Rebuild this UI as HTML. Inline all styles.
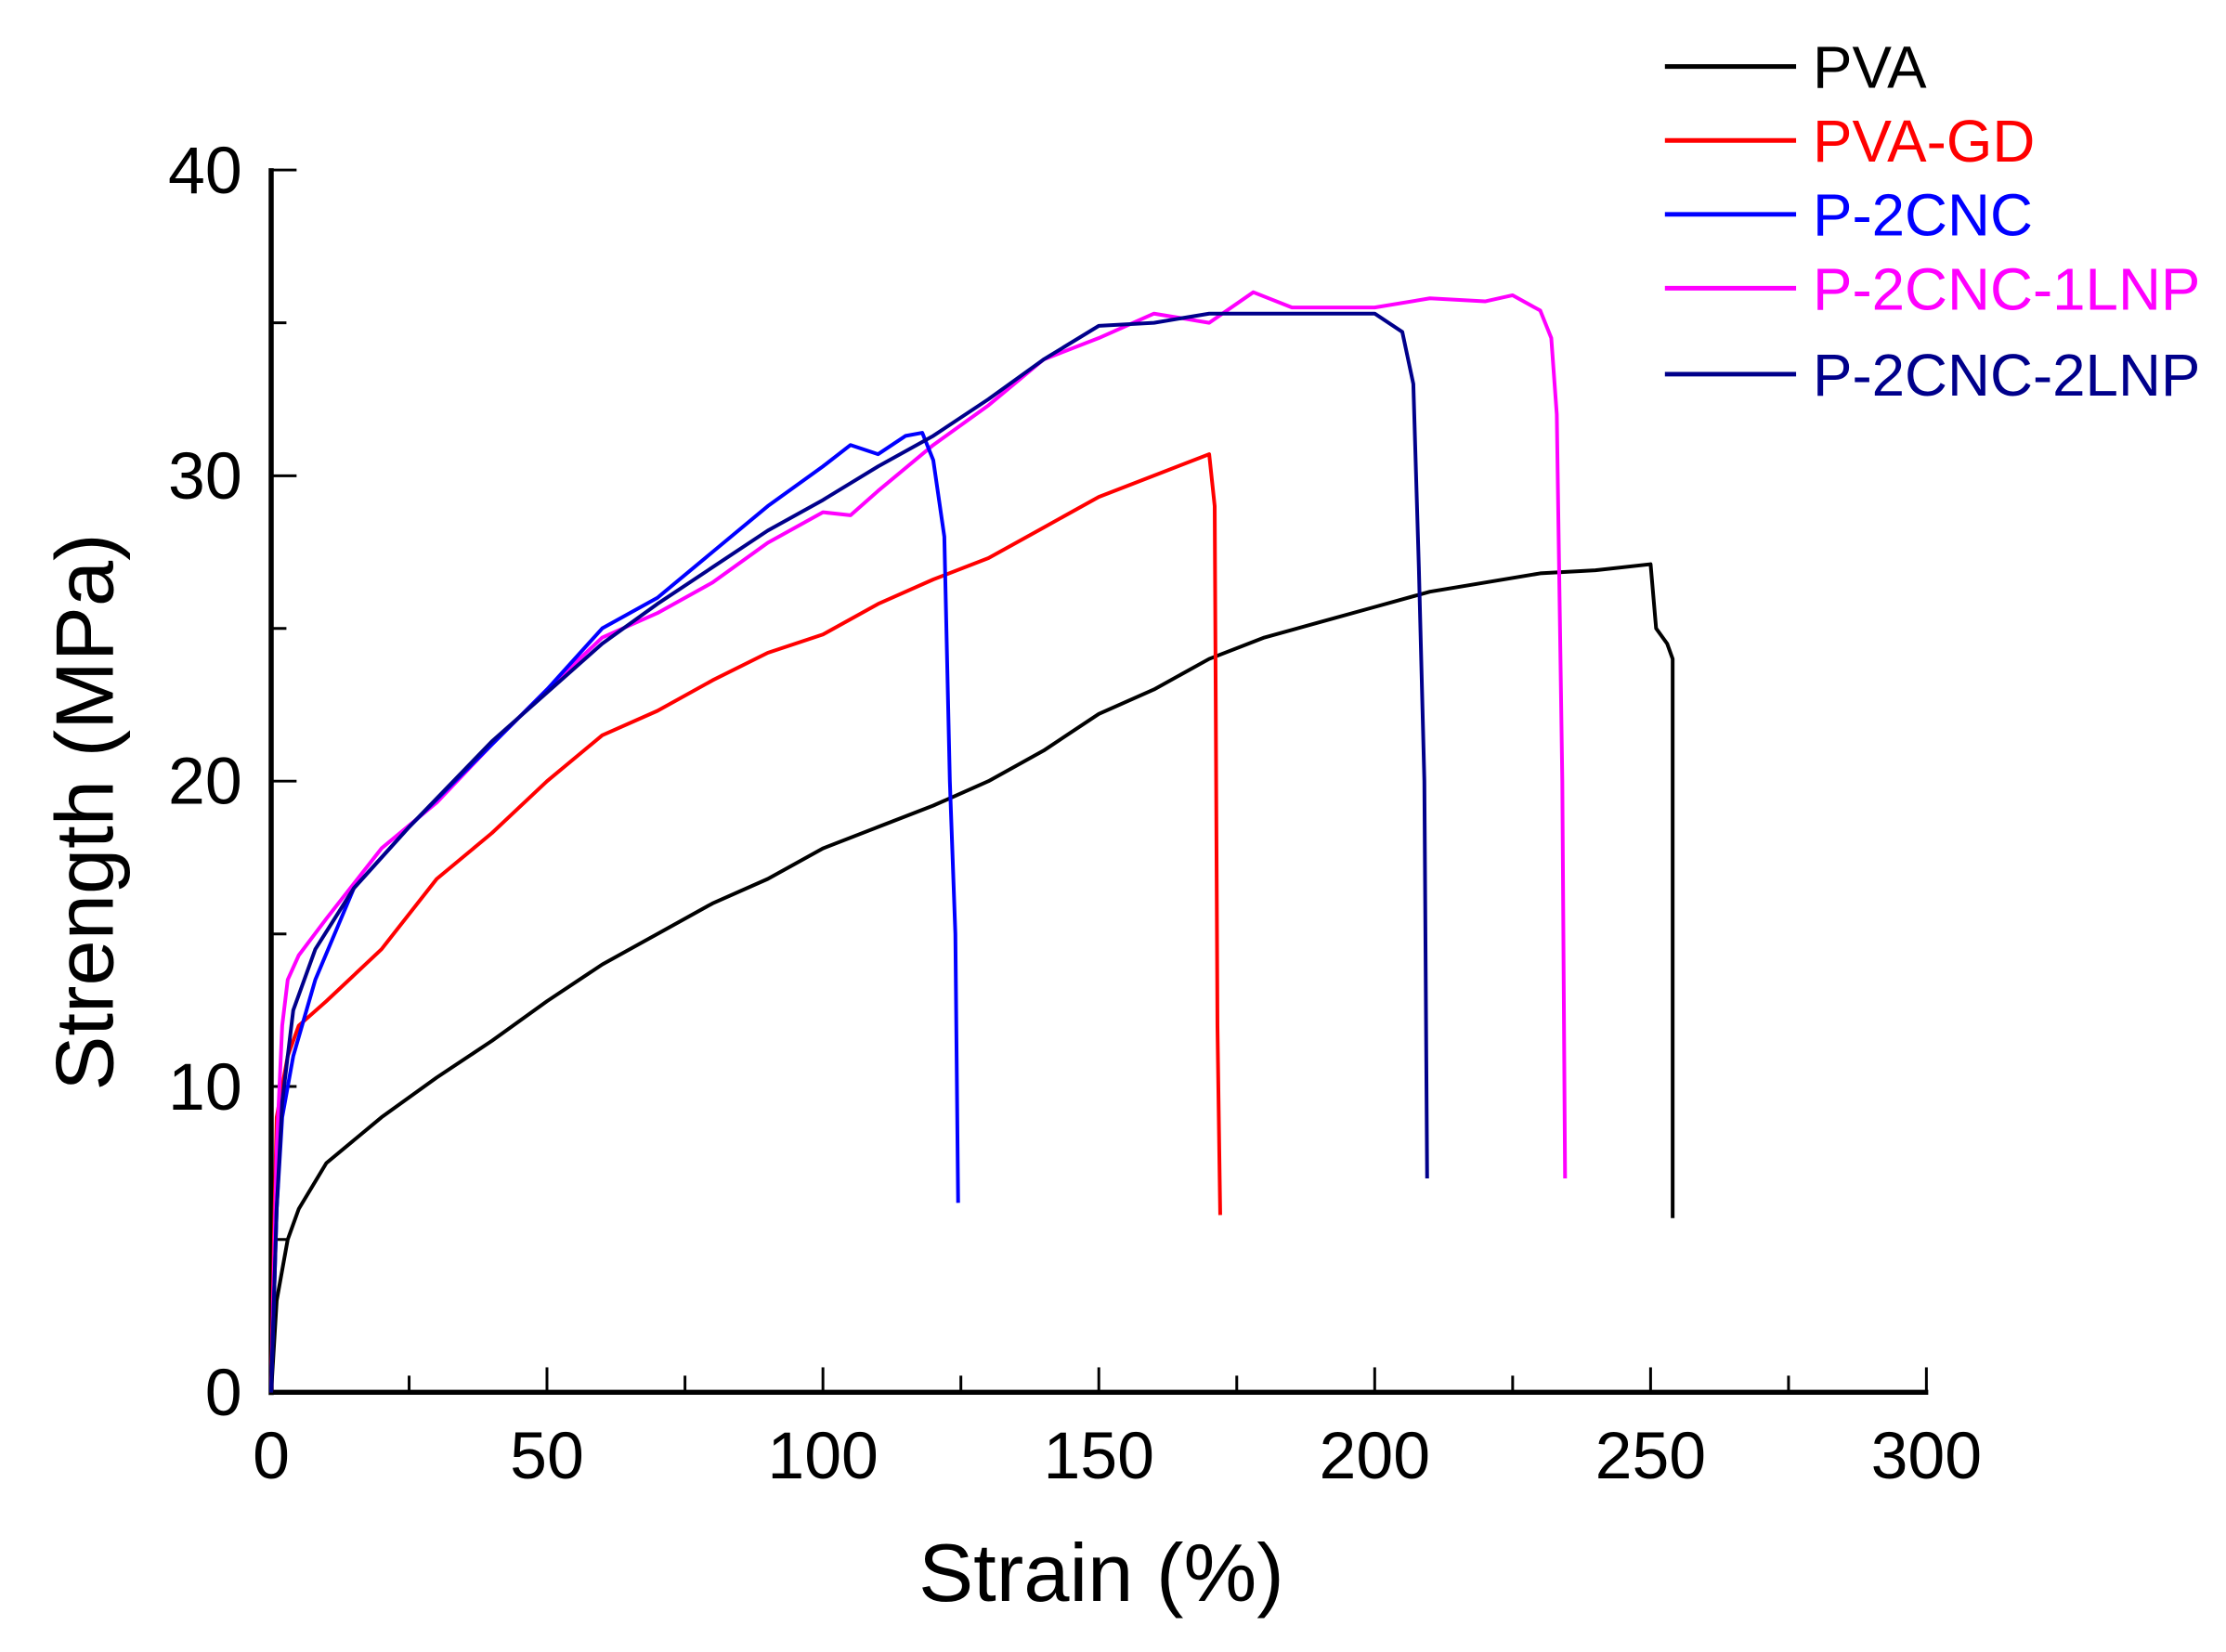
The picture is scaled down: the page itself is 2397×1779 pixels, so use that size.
<!DOCTYPE html>
<html><head><meta charset="utf-8"><style>
html,body{margin:0;padding:0;background:#fff}
svg{display:block}
text{font-family:"Liberation Sans",Arial,sans-serif}
</style></head><body>
<svg width="2397" height="1779" viewBox="0 0 2397 1779" xmlns="http://www.w3.org/2000/svg">
<rect width="2397" height="1779" fill="#fff"/>
<g transform="scale(0.9949)">
<g stroke="#000" stroke-width="5.5" fill="none">
<line x1="293.5" y1="182" x2="293.5" y2="1510"/>
<line x1="291" y1="1507" x2="2087" y2="1507"/>
</g>
<g stroke="#000" stroke-width="3">
<line x1="293" y1="1176" x2="321" y2="1176"/>
<line x1="293" y1="845.5" x2="321" y2="845.5"/>
<line x1="293" y1="515" x2="321" y2="515"/>
<line x1="293" y1="184" x2="321" y2="184"/>
<line x1="293" y1="1341.6" x2="310" y2="1341.6"/>
<line x1="293" y1="1010.9" x2="310" y2="1010.9"/>
<line x1="293" y1="680.2" x2="310" y2="680.2"/>
<line x1="293" y1="349.4" x2="310" y2="349.4"/>
<line x1="592" y1="1507" x2="592" y2="1480"/>
<line x1="890.7" y1="1507" x2="890.7" y2="1480"/>
<line x1="1189.3" y1="1507" x2="1189.3" y2="1480"/>
<line x1="1487.9" y1="1507" x2="1487.9" y2="1480"/>
<line x1="1786.5" y1="1507" x2="1786.5" y2="1480"/>
<line x1="2085" y1="1507" x2="2085" y2="1480"/>
<line x1="442.8" y1="1507" x2="442.8" y2="1489"/>
<line x1="741.4" y1="1507" x2="741.4" y2="1489"/>
<line x1="1040" y1="1507" x2="1040" y2="1489"/>
<line x1="1338.6" y1="1507" x2="1338.6" y2="1489"/>
<line x1="1637.2" y1="1507" x2="1637.2" y2="1489"/>
<line x1="1935.8" y1="1507" x2="1935.8" y2="1489"/>
</g>
<g font-size="72" fill="#000" text-anchor="end">
<text x="262" y="1532">0</text>
<text x="262" y="1201">10</text>
<text x="262" y="870">20</text>
<text x="262" y="540">30</text>
<text x="262" y="209">40</text>
</g>
<g font-size="72" fill="#000" text-anchor="middle">
<text x="293.5" y="1600">0</text>
<text x="592" y="1600">50</text>
<text x="890.7" y="1600">100</text>
<text x="1189.3" y="1600">150</text>
<text x="1487.9" y="1600">200</text>
<text x="1786.5" y="1600">250</text>
<text x="2085" y="1600">300</text>
</g>
<text x="1192" y="1733" font-size="89" text-anchor="middle">Strain (%)</text>
<text transform="translate(122,879) rotate(-90)" font-size="89" text-anchor="middle">Strength (MPa)</text>
<g transform="translate(293.5,1507) scale(5.972,-33.075)" fill="none" stroke-width="4" stroke-linejoin="round">
<polyline vector-effect="non-scaling-stroke" stroke="#000" points="0,0 1,3 3,5 5,6 10,7.5 20,9 30,10.3 40,11.5 50,12.8 60,14 70,15 80,16 90,16.8 100,17.8 110,18.5 120,19.2 130,20 140,21 150,22.2 160,23 170,24 180,24.7 190,25.2 200,25.7 210,26.2 220,26.5 230,26.8 240,26.9 250,27.1 251,25 253,24.5 254,24 254,5.7"/>
<polyline vector-effect="non-scaling-stroke" stroke="#ff0000" points="0,0 0.5,5 1,9 3,11 5,12 10,12.8 20,14.5 30,16.8 40,18.3 50,20 60,21.5 70,22.3 80,23.3 90,24.2 100,24.8 110,25.8 120,26.6 130,27.3 140,28.3 150,29.3 160,30 170,30.7 171,29 171.5,12 172,5.8"/>
<polyline vector-effect="non-scaling-stroke" stroke="#ff00ff" points="0,0 0.5,4 1,8 2,12 3,13.5 5,14.3 10,15.5 20,17.8 30,19.3 40,21.2 50,23 60,24.7 70,25.5 80,26.5 90,27.8 100,28.8 105,28.7 110,29.5 120,31 130,32.3 140,33.8 150,34.5 160,35.3 170,35 178,36 185,35.5 200,35.5 210,35.8 220,35.7 225,35.9 230,35.4 232,34.5 233,32 234,20 234.5,7"/>
<polyline vector-effect="non-scaling-stroke" stroke="#0000ff" points="0,0 1,6 2,9 4,11 8,13.5 15,16.5 25,18.5 40,21.2 50,23 60,25 70,26 80,27.5 90,29 100,30.3 105,31 110,30.7 115,31.3 118,31.4 120,30.5 122,28 123,20 124,15 124.5,6.2"/>
<polyline vector-effect="non-scaling-stroke" stroke="#00008b" points="0,0 1,6 2,9.5 4,12.5 8,14.5 15,16.5 25,18.5 40,21.3 50,22.9 60,24.5 70,25.8 80,27 90,28.2 100,29.2 110,30.3 120,31.3 130,32.5 140,33.8 150,34.9 160,35 170,35.3 180,35.3 190,35.3 200,35.3 205,34.7 207,33 208,27 209,20 209.5,7"/>
</g>
<g stroke-width="5">
<line x1="1802" y1="72" x2="1944" y2="72" stroke="#000"/>
<line x1="1802" y1="152" x2="1944" y2="152" stroke="#ff0000"/>
<line x1="1802" y1="232" x2="1944" y2="232" stroke="#0000ff"/>
<line x1="1802" y1="312" x2="1944" y2="312" stroke="#ff00ff"/>
<line x1="1802" y1="405" x2="1944" y2="405" stroke="#00008b"/>
</g>
<g font-size="64">
<text x="1962" y="95" fill="#000">PVA</text>
<text x="1962" y="175" fill="#ff0000">PVA-GD</text>
<text x="1962" y="255" fill="#0000ff">P-2CNC</text>
<text x="1962" y="335" fill="#ff00ff">P-2CNC-1LNP</text>
<text x="1962" y="428" fill="#00008b">P-2CNC-2LNP</text>
</g>
</g>
</svg>
</body></html>
